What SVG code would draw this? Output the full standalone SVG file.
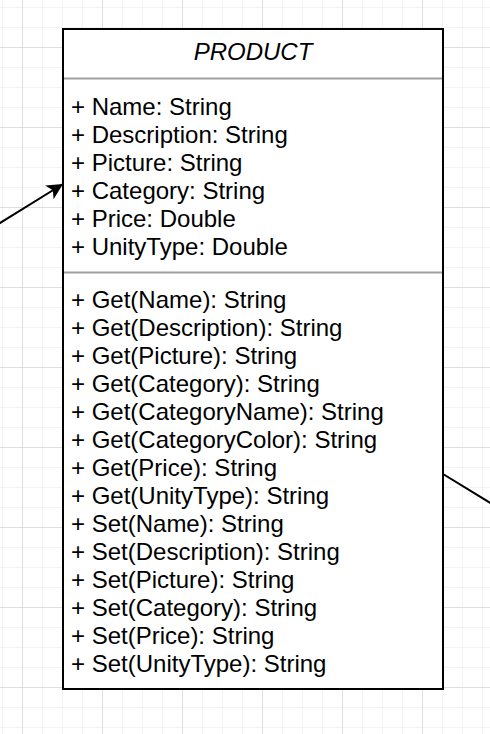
<svg xmlns="http://www.w3.org/2000/svg" width="490" height="734" viewBox="0 0 490 734">
  <style>
    .t { font-family: "Liberation Sans", Arial, sans-serif; font-size: 24px; fill: #000; }
    .h { font-style: italic; text-anchor: middle; }
    .conn { stroke: #000; stroke-width: 2; fill: none; }
    .div { stroke: #a0a0a0; stroke-width: 2; }
  </style>
  <defs>
    <pattern id="minor" x="2" y="7" width="20" height="20" patternUnits="userSpaceOnUse">
      <path d="M0 0 H20 M0 0 V20" stroke="#efefef" stroke-width="1.5" fill="none"/>
    </pattern>
    <pattern id="major" x="22" y="47" width="80" height="80" patternUnits="userSpaceOnUse">
      <path d="M0 0 H80 M0 0 V80" stroke="#d8d8d8" stroke-width="1.5" fill="none"/>
    </pattern>
    <marker id="arrowBig" viewBox="0 0 16 16" refX="16" refY="8" markerWidth="16" markerHeight="16" markerUnits="userSpaceOnUse" orient="auto">
      <path d="M0 0 L16 8 L0 16 L4 8 Z" fill="#000"/>
    </marker>
  </defs>
  <rect width="490" height="734" fill="#fff"/>
  <rect width="490" height="734" fill="url(#minor)"/>
  <rect width="490" height="734" fill="url(#major)"/>

  <g id="connectors">
    <line class="conn" x1="-2" y1="224.2" x2="63" y2="184" marker-end="url(#arrowBig)"/>
    <line class="conn" x1="443" y1="474" x2="492" y2="504"/>
  </g>

  <g id="product">
    <rect x="63" y="29" width="380" height="660" fill="#fff" stroke="#000" stroke-width="2"/>
    <line class="div" x1="64" y1="78.5" x2="442" y2="78.5"/>
    <line class="div" x1="64" y1="272.5" x2="442" y2="272.5"/>
    <text class="t h" x="253" y="59.5">PRODUCT</text>
    <text class="t" x="71">
      <tspan x="71" y="114.5">+ Name: String</tspan>
      <tspan x="71" y="142.5">+ Description: String</tspan>
      <tspan x="71" y="170.5">+ Picture: String</tspan>
      <tspan x="71" y="198.5">+ Category: String</tspan>
      <tspan x="71" y="226.5">+ Price: Double</tspan>
      <tspan x="71" y="254.5">+ UnityType: Double</tspan>
    </text>
    <text class="t" x="71">
      <tspan x="71" y="308">+ Get(Name): String</tspan>
      <tspan x="71" y="336">+ Get(Description): String</tspan>
      <tspan x="71" y="364">+ Get(Picture): String</tspan>
      <tspan x="71" y="392">+ Get(Category): String</tspan>
      <tspan x="71" y="420">+ Get(CategoryName): String</tspan>
      <tspan x="71" y="448">+ Get(CategoryColor): String</tspan>
      <tspan x="71" y="476">+ Get(Price): String</tspan>
      <tspan x="71" y="504">+ Get(UnityType): String</tspan>
      <tspan x="71" y="532">+ Set(Name): String</tspan>
      <tspan x="71" y="560">+ Set(Description): String</tspan>
      <tspan x="71" y="588">+ Set(Picture): String</tspan>
      <tspan x="71" y="616">+ Set(Category): String</tspan>
      <tspan x="71" y="644">+ Set(Price): String</tspan>
      <tspan x="71" y="672">+ Set(UnityType): String</tspan>
    </text>
  </g>
</svg>
